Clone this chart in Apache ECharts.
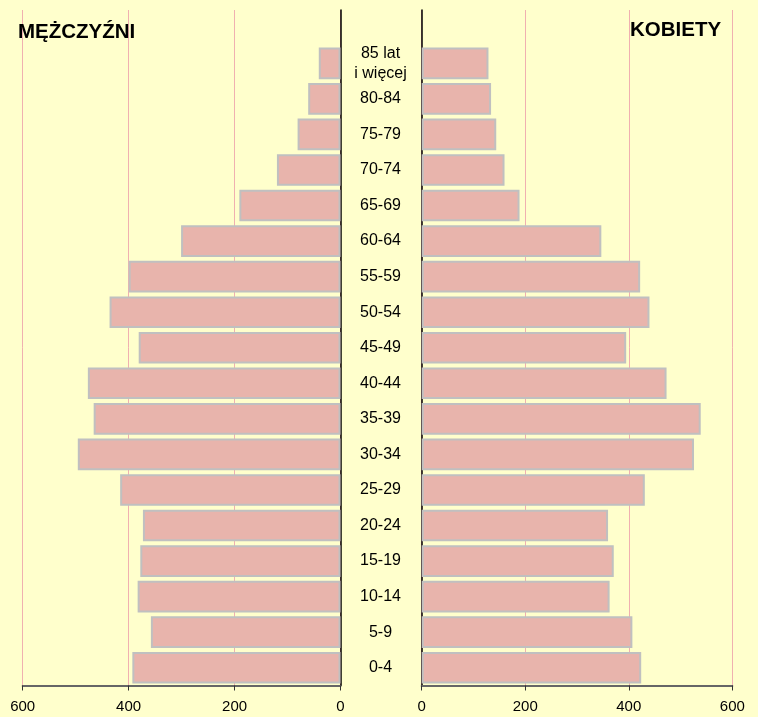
<!DOCTYPE html>
<html>
<head>
<meta charset="utf-8">
<script src="https://cdn.jsdelivr.net/npm/echarts@6/dist/echarts.min.js"></script>
<style>
  html, body { margin: 0; padding: 0; background: #ffffcc; }
  #chart { width: 758px; height: 717px; }
</style>
</head>
<body>
<div id="chart"></div>
<script>
// grupy wieku (od dołu), ostatnia pusta na tytuły
const ageGroups = ['0-4', '5-9', '10-14', '15-19', '20-24', '25-29', '30-34', '35-39', '40-44',
  '45-49', '50-54', '55-59', '60-64', '65-69', '70-74', '75-79', '80-84', '85 lat\ni więcej', '']
const men = [393, 358, 383, 378, 373, 416, 496, 466, 477, 381, 436, 400, 301, 191, 120, 81, 61, 41, null]
const women = [424, 407, 363, 371, 360, 431, 526, 539, 473, 395, 440, 422, 347, 189, 160, 144, 134, 129, null]
const xTicks = [0, 200, 400, 600]

const font = 'Arial, "Liberation Sans", sans-serif'
const barStyle = { color: '#e8b4ac', borderColor: '#c0c0c0', borderWidth: 2 }

const xAxisBase = {
  type: 'value',
  min: xTicks[0],
  max: xTicks[xTicks.length - 1],
  interval: xTicks[1] - xTicks[0],
  axisLine: { show: true, lineStyle: { color: '#666', width: 2 } },
  axisTick: { show: true, length: 5, lineStyle: { color: '#333' } },
  axisLabel: { color: '#000', fontSize: 15, fontFamily: font, margin: 14 },
  splitLine: { show: true, lineStyle: { color: '#f0b0b0', width: 1 } }
}

const chart = echarts.init(document.getElementById('chart'))
chart.setOption({
  backgroundColor: '#ffffcc',
  animation: false,
  title: [
    { text: 'MĘŻCZYŹNI', left: 13, top: 17, textStyle: { fontSize: 20.5, fontWeight: 'bold', color: '#000', fontFamily: font } },
    { text: 'KOBIETY', left: 625, top: 15, textStyle: { fontSize: 20.5, fontWeight: 'bold', color: '#000', fontFamily: font } }
  ],
  grid: [
    { left: 22.7, right: 417.5, top: 10, bottom: 31.5 },
    { left: 421.7, right: 25.7, top: 10, bottom: 31.5 }
  ],
  xAxis: [
    Object.assign({}, xAxisBase, { gridIndex: 0, inverse: true }),
    Object.assign({}, xAxisBase, { gridIndex: 1 })
  ],
  yAxis: [
    {
      type: 'category', gridIndex: 0, position: 'right', data: ageGroups,
      axisLine: { show: true, lineStyle: { color: '#000', width: 1.5 } },
      axisTick: { show: false },
      axisLabel: { color: '#000', fontSize: 16, fontFamily: font, align: 'center', margin: 40, lineHeight: 20 },
      splitLine: { show: false }
    },
    {
      type: 'category', gridIndex: 1, position: 'left', data: ageGroups,
      axisLine: { show: true, lineStyle: { color: '#000', width: 1.5 } },
      axisTick: { show: false },
      axisLabel: { show: false },
      splitLine: { show: false }
    }
  ],
  series: [
    { name: 'Mężczyźni', type: 'bar', xAxisIndex: 0, yAxisIndex: 0, data: men, barCategoryGap: '11%', itemStyle: barStyle },
    { name: 'Kobiety', type: 'bar', xAxisIndex: 1, yAxisIndex: 1, data: women, barCategoryGap: '11%', itemStyle: barStyle }
  ]
})
</script>
</body>
</html>
